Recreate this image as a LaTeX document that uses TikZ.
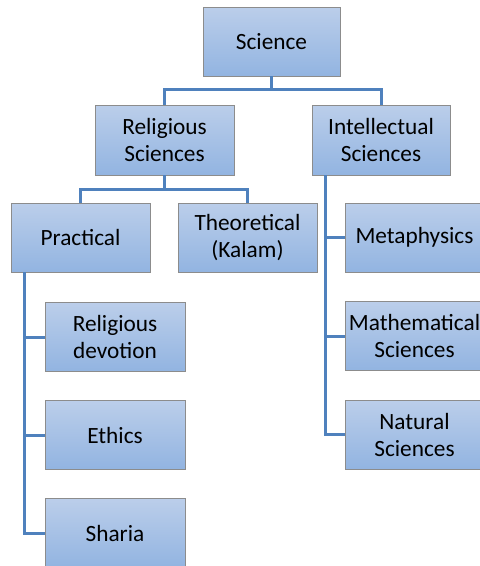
\documentclass[tikz,border=0pt]{standalone}
\usepackage{fontspec}
\setmainfont{Carlito}
\definecolor{boxtop}{RGB}{187,206,234}
\definecolor{boxbot}{RGB}{146,180,225}
\definecolor{boxline}{RGB}{140,140,140}
\definecolor{connblue}{RGB}{79,129,189}
\begin{document}
\begin{tikzpicture}[x=1pt,y=-1pt,
  box/.style={draw=boxline, line width=0.9pt, top color=boxtop, bottom color=boxbot,
    minimum width=139pt, minimum height=69pt, inner sep=0pt, align=center,
    font=\fontsize{23.3}{27}\selectfont},
  sbox/.style={box, minimum width=140pt},
  conn/.style={draw=connblue, line width=3pt}]
\useasboundingbox (0,0) rectangle (480,566);
\node[box, minimum width=137pt] (sci) at (271.5,41.5) {Science};
\node[box, minimum height=70pt] (rel) at (164.5,140) {Religious\\Sciences};
\node[box, minimum height=70pt, minimum width=138pt] (int) at (381,140) {Intellectual\\Sciences};
\node[box] (pra) at (80.5,237.5) {Practical};
\node[box] (the) at (247.5,237.5) {Theoretical\\(Kalam)};
\node[box] (met) at (414.5,237.5) {Metaphysics};
\node[box] (mat) at (414.5,336) {Mathematical\\Sciences};
\node[box] (nat) at (414.5,434.5) {Natural\\Sciences};
\node[sbox] (dev) at (115,337) {Religious\\devotion};
\node[sbox] (eth) at (115,435) {Ethics};
\node[sbox] (sha) at (115,533) {Sharia};
% connectors
\draw[conn] (sci.south) -- ++(0,14);
\draw[conn] (rel.north) -- ++(0,-15) -| (int.north);
\draw[conn] (rel.south) -- ++(0,15);
\draw[conn] (pra.north) -- ++(0,-13) -| (the.north);
\draw[conn] ([xshift=14pt]pra.south west) |- (dev.west);
\draw[conn] ([xshift=14pt]pra.south west) |- (eth.west);
\draw[conn] ([xshift=14pt]pra.south west) |- (sha.west);
\draw[conn] ([xshift=14pt]int.south west) |- (met.west);
\draw[conn] ([xshift=14pt]int.south west) |- (mat.west);
\draw[conn] ([xshift=14pt]int.south west) |- (nat.west);
\end{tikzpicture}
\end{document}
